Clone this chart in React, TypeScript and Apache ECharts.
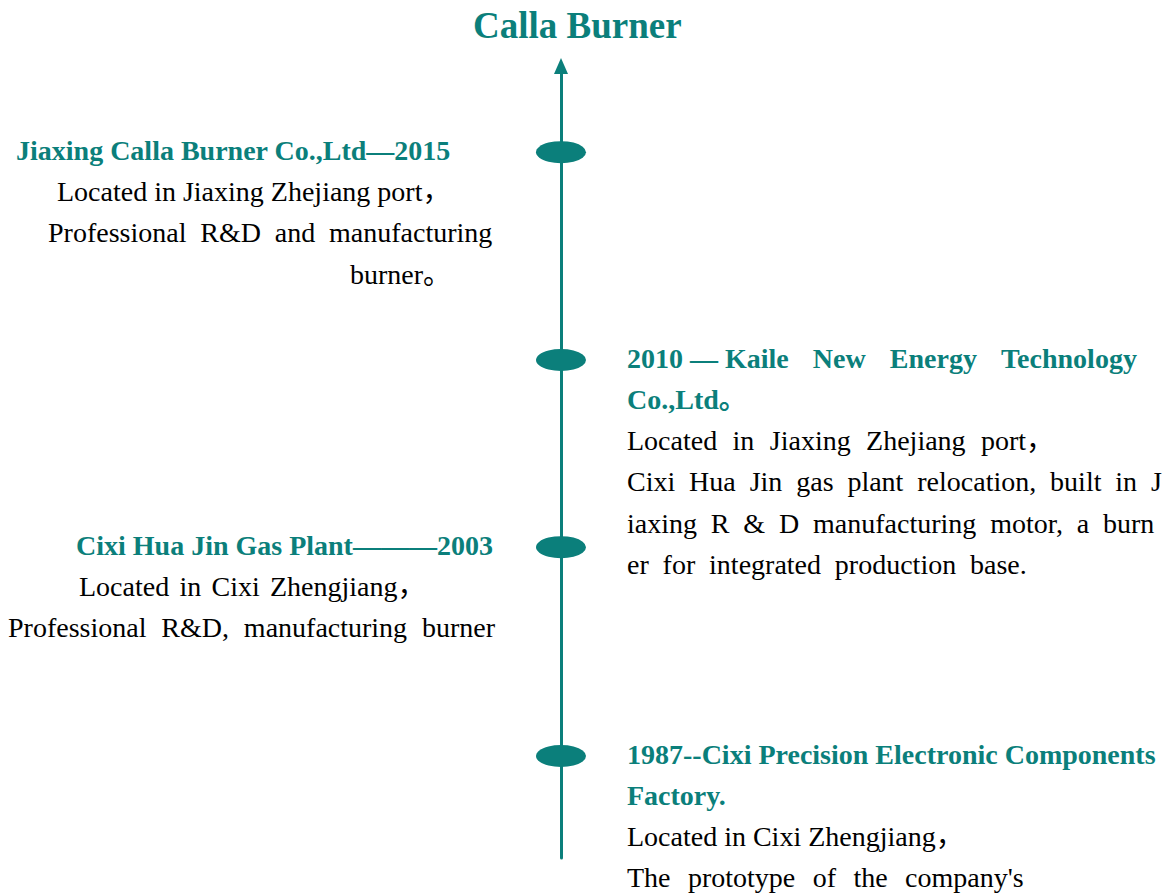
import React, { useEffect, useRef } from 'react';
import * as echarts from 'echarts';

// ---------- data ----------
const chartTitle = 'Calla Burner';
const years = ['2015', '2010', '2003', '1987'];
// position of each milestone along the vertical timeline
const timelinePos = [7.13, 5.03, 3.14, 1.03];
const headingLines = [
  ['Jiaxing Calla Burner Co.,Ltd—2015'],
  ['2010\u00a0—\u00a0Kaile New Energy Technology', 'Co.,Ltd。'],
  ['Cixi Hua Jin Gas Plant———2003'],
  ['1987--Cixi Precision Electronic Components', 'Factory.'],
];
const bodyLines = [
  ['Located in Jiaxing Zhejiang port，', 'Professional R&D and manufacturing', 'burner。'],
  [
    'Located in Jiaxing Zhejiang port，',
    'Cixi Hua Jin gas plant relocation, built in J',
    'iaxing R & D manufacturing motor, a burn',
    'er for integrated production base.',
  ],
  ['Located in Cixi Zhengjiang，', 'Professional R&D, manufacturing burner'],
  ['Located in Cixi Zhengjiang，', "The prototype of the company's"],
];

// ---------- layout (x start, start of last word when justified) ----------
const lineLayout: [number, number | null][][] = [
  [[16, null], [57, null], [48, 329], [350, null]],
  [[627, 1001], [627, null], [627, 981], [627, 1151], [627, 1103], [627, 970]],
  [[76, null], [79, 270], [8, 422]],
  [[627, null], [627, null], [627, null], [627, 905]],
];

const TEAL = '#0b7f7b';
const FONT = '"Liberation Serif", "Times New Roman", "Noto Sans CJK SC", serif';
const FS = 28;
const LINE_STEP = 41.3;
const TEXT_DY = -2;

export default function App() {
  const ref = useRef<HTMLDivElement>(null);

  useEffect(() => {
    const chart = echarts.init(ref.current!, null, { renderer: 'svg' });
    chart.setOption({
      animation: false,
      title: {
        text: chartTitle,
        left: 473,
        top: 7,
        padding: 0,
        textStyle: { fontFamily: FONT, fontSize: 37, fontWeight: 'bold', color: TEAL },
      },
      grid: { left: 561, top: 66, bottom: 35, width: 400 },
      xAxis: { type: 'value', min: 0, max: 1, show: false },
      yAxis: {
        type: 'value',
        min: 0,
        max: 8,
        axisLine: {
          show: true,
          onZero: false,
          symbol: ['none', 'triangle'],
          symbolSize: [14, 16],
          lineStyle: { color: TEAL, width: 3 },
        },
        axisTick: { show: false },
        axisLabel: { show: false },
        splitLine: { show: false },
      },
      series: [
        {
          type: 'scatter',
          data: years.map((y, i) => ({ name: y, value: [0, timelinePos[i]] })),
          symbol: 'circle',
          symbolSize: [50, 22],
          itemStyle: { color: TEAL, opacity: 1 },
          clip: false,
          z: 5,
        },
      ],
    });

    const ctx = document.createElement('canvas').getContext('2d')!;
    const measure = (t: string, bold: boolean) => {
      ctx.font = `${bold ? 'bold ' : ''}${FS}px ${FONT}`;
      return ctx.measureText(t).width;
    };

    const elements: any[] = [];
    years.forEach((_, i) => {
      const [, py] = chart.convertToPixel({ gridIndex: 0 }, [0, timelinePos[i]]) as number[];
      const lines = [
        ...headingLines[i].map((t) => ({ t, bold: true })),
        ...bodyLines[i].map((t) => ({ t, bold: false })),
      ];
      lines.forEach((ln, k) => {
        const [x0, lastStart] = lineLayout[i][k];
        const y = py + TEXT_DY + k * LINE_STEP;
        const style = (text: string, x: number) => ({
          type: 'text',
          x,
          y,
          silent: true,
          style: {
            text,
            fill: ln.bold ? TEAL : '#000',
            fontSize: FS,
            fontFamily: FONT,
            fontWeight: ln.bold ? 'bold' : 'normal',
            lineHeight: FS,
            align: 'left',
            verticalAlign: 'middle',
          },
        });
        if (lastStart == null) {
          elements.push(style(ln.t, x0));
        } else {
          const words = ln.t.split(' ').filter((w) => w.length);
          const widths = words.map((w) => measure(w, ln.bold));
          const sumBefore = widths.slice(0, -1).reduce((a, b) => a + b, 0);
          const gap = (lastStart - x0 - sumBefore) / Math.max(1, words.length - 1);
          let x = x0;
          words.forEach((w, j) => {
            elements.push(style(w, j === words.length - 1 ? lastStart : x));
            x += widths[j] + gap;
          });
        }
      });
    });
    chart.setOption({ graphic: { elements } });

    return () => chart.dispose();
  }, []);

  return (
    <div
      ref={ref}
      style={{ position: 'absolute', left: 0, top: 0, width: 1171, height: 893, background: '#fff' }}
    />
  );
}
